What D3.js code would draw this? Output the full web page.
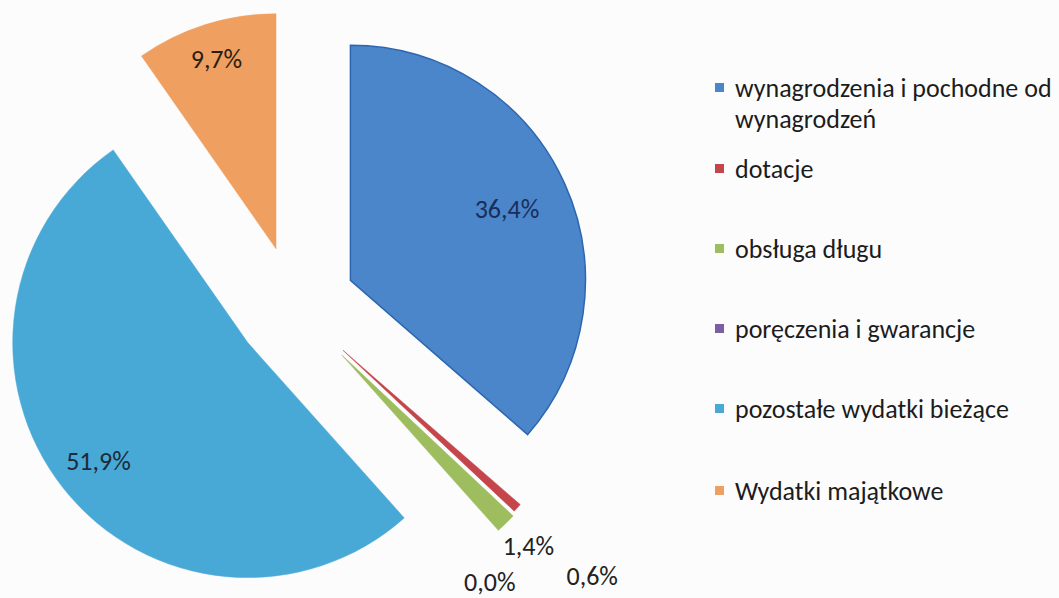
<!DOCTYPE html>
<html>
<head>
<meta charset="utf-8">
<script src="https://cdn.jsdelivr.net/npm/d3@7"></script>
<style>
  html, body { margin: 0; padding: 0; background: #fcfcfd; }
  svg { display: block; }
  text { font-family: Carlito, Lato, "Open Sans", sans-serif; }
</style>
</head>
<body>
<svg id="chart" width="1059" height="598"></svg>
<script>
// ---- data ----
const categories = [
  "wynagrodzenia i pochodne od wynagrodzeń",
  "dotacje",
  "obsługa długu",
  "poręczenia i gwarancje",
  "pozostałe wydatki bieżące",
  "Wydatki majątkowe"
];
const values = [36.4, 0.6, 1.4, 0.0, 51.9, 9.7];
const valueLabels = ["36,4%", "0,6%", "1,4%", "0,0%", "51,9%", "9,7%"];
const legendLines = [
  ["wynagrodzenia i pochodne od", "wynagrodzeń"],
  ["dotacje"],
  ["obsługa długu"],
  ["poręczenia i gwarancje"],
  ["pozostałe wydatki bieżące"],
  ["Wydatki majątkowe"]
];

// ---- style / layout ----
const colors = ["#4a86c9", "#c4454a", "#9dbd5e", "#7d5ea6", "#48a9d6", "#ef9f5f"];
const strokes = ["#2d66b0", "#c4454a", "#9dbd5e", "#7d5ea6", "#48a9d6", "#ef9f5f"];
const explode = [62, 66, 68.5, 66, 59, 60];
const labelR = [0.732, 1.43, 1.137, 1.163, 0.81, 0.845];
const labelAngleOffset = [0, 0, 0, 8, 0, 0];   // degrees
const labelColors = ["#1b2d5c", "#222", "#222", "#222", "#1e2a3a", "#2a1e12"];

const svg = d3.select("#chart");
const cx = 294, cy = 306, R = 235;

const pie = d3.pie().sort(null).value(d => d).startAngle(0).endAngle(2 * Math.PI);
const arcs = pie(values);
const arc = d3.arc().innerRadius(0).outerRadius(R);

const g = svg.append("g").attr("transform", `translate(${cx},${cy})`);

function dir(a) { return [Math.sin(a), -Math.cos(a)]; }

arcs.forEach((a, i) => {
  const mid = (a.startAngle + a.endAngle) / 2;
  const [dx, dy] = dir(mid);
  const ox = dx * explode[i], oy = dy * explode[i];
  if (a.endAngle - a.startAngle > 0) {
    g.append("path")
      .attr("d", arc(a))
      .attr("transform", `translate(${ox},${oy})`)
      .attr("fill", colors[i])
      .attr("stroke", strokes[i])
      .attr("stroke-width", i === 0 ? 1.5 : 0.5);
  }
  const la = mid + labelAngleOffset[i] * Math.PI / 180;
  const [lx, ly] = dir(la);
  g.append("text")
    .attr("x", ox + lx * R * labelR[i])
    .attr("y", oy + ly * R * labelR[i])
    .attr("text-anchor", "middle")
    .attr("dominant-baseline", "central")
    .attr("font-size", 26)
    .attr("fill", labelColors[i])
    .text(valueLabels[i]);
});

// ---- legend ----
const legendX = 715;
const legendBaselines = [97, 178, 258, 338, 418, 500];
const lg = svg.append("g");
categories.forEach((c, i) => {
  const y = legendBaselines[i];
  lg.append("rect")
    .attr("x", legendX).attr("y", y - 14)
    .attr("width", 9).attr("height", 9)
    .attr("fill", colors[i]);
  const t = lg.append("text")
    .attr("x", legendX + 20).attr("y", y)
    .attr("font-size", 26)
    .attr("fill", "#1c1c1c");
  legendLines[i].forEach((line, j) => {
    t.append("tspan").attr("x", legendX + 20).attr("dy", j === 0 ? 0 : 31).text(line);
  });
});
</script>
</body>
</html>
